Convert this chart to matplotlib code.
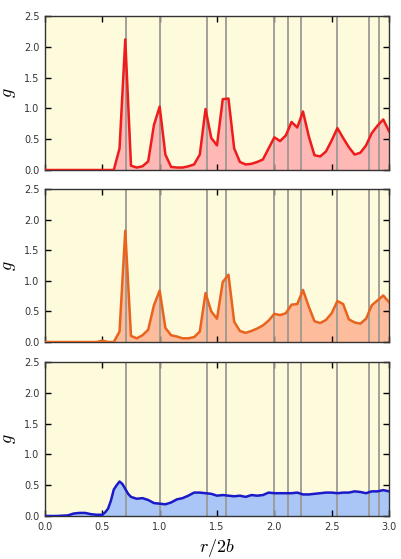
import matplotlib
matplotlib.use("Agg")
import matplotlib.pyplot as plt
import numpy as np

plt.rcParams["mathtext.fontset"] = "cm"

# shell positions r/2b
shells = np.sqrt([0.5, 1.0, 2.0, 2.5, 4.0, 4.5, 5.0, 6.5, 8.0, 8.5])

r = np.round(np.arange(0, 3.0001, 0.05), 2)

g_red = [0, 0, 0, 0, 0, 0, 0, 0, 0, 0, 0, 0, 0,
         0.35, 2.12, 0.07, 0.04, 0.06, 0.14, 0.73, 1.03, 0.25, 0.05, 0.04, 0.04,
         0.06, 0.09, 0.25, 0.99, 0.52, 0.40, 1.15, 1.16, 0.35, 0.13, 0.09, 0.10,
         0.13, 0.17, 0.35, 0.53, 0.47, 0.56, 0.78, 0.69, 0.95, 0.55, 0.24, 0.22,
         0.30, 0.48, 0.68, 0.52, 0.37, 0.25, 0.28, 0.40, 0.60, 0.72, 0.82, 0.63]

g_orange = [0, 0, 0, 0, 0, 0, 0, 0, 0, 0, 0.02, 0, 0,
            0.17, 1.82, 0.10, 0.06, 0.11, 0.20, 0.60, 0.84, 0.23, 0.11, 0.09, 0.06,
            0.06, 0.08, 0.17, 0.80, 0.50, 0.38, 0.98, 1.10, 0.33, 0.18, 0.15, 0.18,
            0.22, 0.27, 0.35, 0.46, 0.44, 0.47, 0.61, 0.62, 0.85, 0.58, 0.34, 0.31,
            0.36, 0.47, 0.67, 0.62, 0.37, 0.32, 0.30, 0.38, 0.60, 0.68, 0.76, 0.65]

r_blue = [0.0, 0.1, 0.2, 0.25, 0.3, 0.35, 0.4, 0.45, 0.5, 0.525, 0.55, 0.575,
          0.6, 0.625, 0.65, 0.675, 0.7, 0.725, 0.75, 0.8, 0.85, 0.9, 0.95, 1.0,
          1.05, 1.1, 1.15, 1.2, 1.25, 1.3, 1.35, 1.4, 1.45, 1.5, 1.55, 1.6, 1.65,
          1.7, 1.75, 1.8, 1.85, 1.9, 1.95, 2.0, 2.05, 2.1, 2.15, 2.2, 2.25, 2.3,
          2.35, 2.4, 2.45, 2.5, 2.55, 2.6, 2.65, 2.7, 2.75, 2.8, 2.85, 2.9, 2.95, 3.0]
g_blue = [0, 0, 0.01, 0.04, 0.05, 0.05, 0.03, 0.02, 0.02, 0.06, 0.12, 0.25,
          0.43, 0.50, 0.56, 0.52, 0.44, 0.36, 0.31, 0.28, 0.29, 0.26, 0.21, 0.20,
          0.19, 0.22, 0.27, 0.29, 0.33, 0.38, 0.38, 0.37, 0.36, 0.33, 0.34, 0.33, 0.32,
          0.33, 0.31, 0.34, 0.33, 0.34, 0.38, 0.37, 0.37, 0.37, 0.37, 0.38, 0.35, 0.35,
          0.36, 0.37, 0.38, 0.38, 0.37, 0.38, 0.38, 0.40, 0.39, 0.37, 0.40, 0.40, 0.42, 0.40]

series = [
    (r, g_red, "#ee1c1c", "#ffb8b5"),
    (r, g_orange, "#e8641e", "#fdbc9c"),
    (r_blue, g_blue, "#1a1ac8", "#a9c6f7"),
]

fig = plt.figure(figsize=(4.01, 5.59), dpi=100)
W, H = 401, 559
boxes = [(16, 170), (189, 342), (362, 516)]
left, right = 45, 389

for i, ((x, y, lc, fc), (top, bot)) in enumerate(zip(series, boxes)):
    ax = fig.add_axes([left / W, 1 - bot / H, (right - left) / W, (bot - top) / H])
    ax.set_facecolor("#fdfbdc")
    ax.fill_between(x, 0, y, color=fc, lw=0, zorder=1)
    for s in shells:
        ax.axvline(s, color="#9a9a94", lw=1.3, zorder=2)
    ax.plot(x, y, color=lc, lw=1.8, zorder=3)
    ax.set_xlim(0, 3.0)
    ax.set_ylim(0, 2.5)
    ax.set_xticks(np.arange(0, 3.01, 0.5))
    ax.set_yticks(np.arange(0, 2.51, 0.5))
    ax.tick_params(direction="in", top=True, right=True, length=4, width=1,
                   labelsize=7, labelcolor="#333333", pad=4)
    for sp in ax.spines.values():
        sp.set_color("#333333")
        sp.set_linewidth(1.0)
    ax.set_ylabel("$g$", fontsize=13, labelpad=4)
    if i < 2:
        ax.set_xticklabels([])
    else:
        ax.set_xlabel("$r/2b$", fontsize=13, labelpad=4)

fig.savefig("out.png", dpi=100)
